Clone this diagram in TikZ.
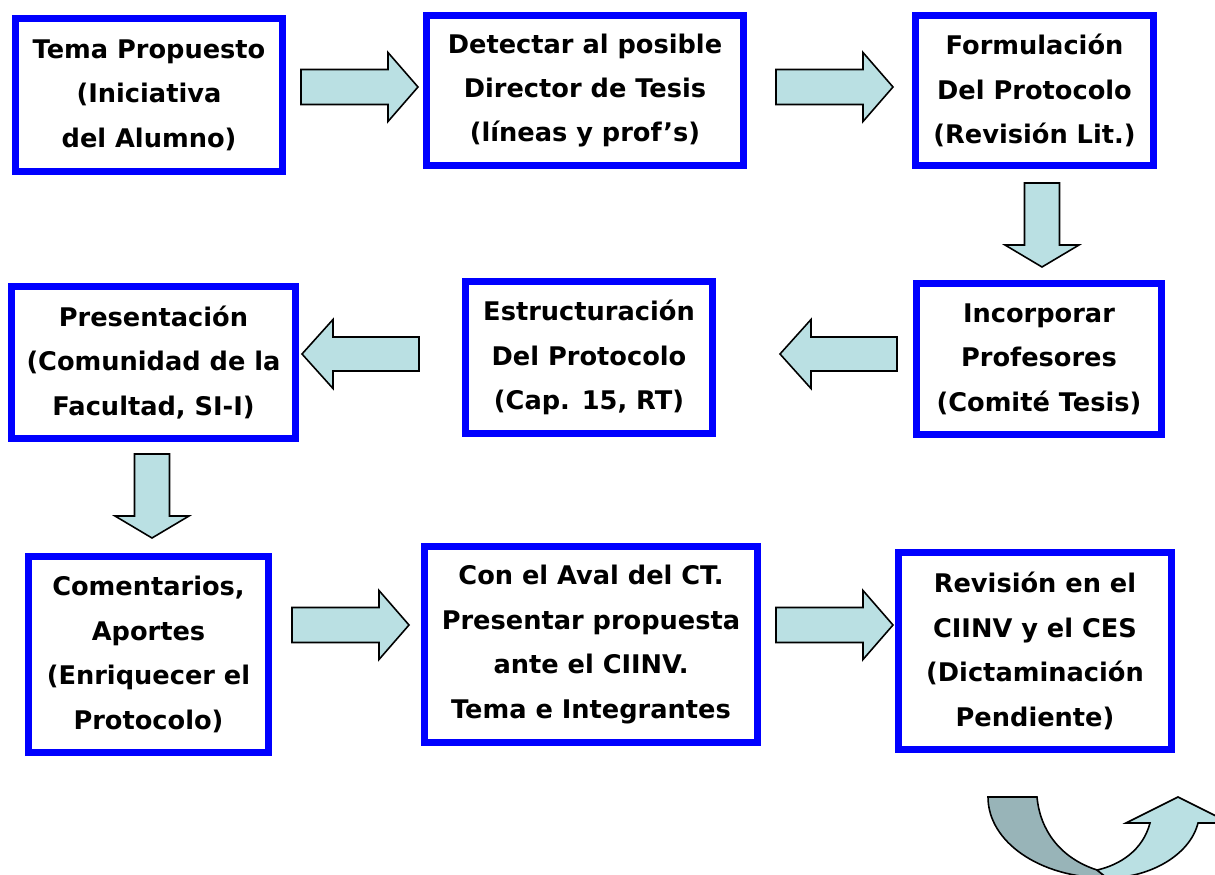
\documentclass[tikz,border=0pt]{standalone}
\usepackage{fontspec}
\setmainfont{DejaVu Sans}
\definecolor{arrowfill}{RGB}{186,224,227}
\definecolor{arrowdark}{RGB}{152,180,184}
\definecolor{boxblue}{RGB}{0,0,255}
\tikzset{
  box/.style={draw=boxblue, line width=0.14cm, fill=white, align=center, inner sep=0pt,
    font=\bfseries\fontsize{14.6}{25.3}\selectfont},
  barrow/.style={draw=black, line width=0.9pt, fill=arrowfill, line join=miter},
  rarr/.pic={\path[barrow] (0,-17.5) -- (87,-17.5) -- (87,-34.5) -- (117,0) -- (87,34.5) -- (87,17.5) -- (0,17.5) -- cycle;},
  larr/.pic={\path[barrow] (0,0) -- (31,-34.5) -- (31,-17) -- (117,-17) -- (117,17) -- (31,17) -- (31,34.5) -- cycle;},
  darr/.pic={\path[barrow] (-17.5,0) -- (17.5,0) -- (17.5,62) -- (37,62) -- (0,84) -- (-37,62) -- (-17.5,62) -- cycle;},
}
\begin{document}
\begin{tikzpicture}[x=0.02cm,y=-0.02cm]
\useasboundingbox (0,0) rectangle (1215,875);
\fill[white] (0,0) rectangle (1215,875);

% boxes
\node[box, minimum width=5.34cm, minimum height=3.06cm] (b1) at (149,95) {Tema Propuesto\\(Iniciativa\\del Alumno)};
\node[box, minimum width=6.34cm, minimum height=3.00cm] (b2) at (585,90.5) {Detectar al posible\\Director de Tesis\\(líneas y prof’s)};
\node[box, minimum width=4.76cm, minimum height=3.00cm] (b3) at (1034.5,90.5) {Formulación\\Del Protocolo\\(Revisión Lit.)};
\node[box, minimum width=4.90cm, minimum height=3.02cm] (b4) at (1039,359) {Incorporar\\Profesores\\(Comité Tesis)};
\node[box, minimum width=4.94cm, minimum height=3.04cm] (b5) at (589,357.5) {Estructuración\\Del Protocolo\\(Cap. 15, RT)};
\node[box, minimum width=5.68cm, minimum height=3.04cm] (b6) at (153.5,362.5) {Presentación\\(Comunidad de la\\Facultad, SI-I)};
\node[box, minimum width=4.80cm, minimum height=3.92cm] (b7) at (148.5,654.5) {Comentarios,\\Aportes\\(Enriquecer el\\Protocolo)};
\node[box, minimum width=6.66cm, minimum height=3.92cm] (b8) at (591,644.5) {Con el Aval del CT.\\Presentar propuesta\\ante el CIINV.\\Tema e Integrantes};
\node[box, minimum width=5.46cm, minimum height=3.94cm] (b9) at (1035,651) {Revisión en el\\CIINV y el CES\\(Dictaminación\\Pendiente)};

% block arrows
\pic at (301,87) {rarr};
\pic at (776,87) {rarr};
\pic at (1042,183) {darr};
\pic at (780,354) {larr};
\pic at (302,354) {larr};
\pic at (152,454) {darr};
\pic at (292,625) {rarr};
\pic at (776,625) {rarr};

% curved U-turn arrow
\begin{scope}
\clip (0,0) rectangle (1215,875);
\path[draw=black, line width=0.9pt, fill=arrowdark, line join=miter]
  (988,797) -- (1037,797) .. controls (1040,830) and (1060,858) .. (1097,870)
  -- (1107,878) .. controls (1040,878) and (988,842) .. (988,797) -- cycle;
\path[draw=black, line width=0.9pt, fill=arrowfill, line join=miter]
  (1097,870) .. controls (1120,865) and (1143,850) .. (1150,823)
  -- (1126,823) -- (1178,797) -- (1230,823) -- (1198,823)
  .. controls (1190,855) and (1150,878) .. (1107,878) -- cycle;
\end{scope}
\end{tikzpicture}
\end{document}
